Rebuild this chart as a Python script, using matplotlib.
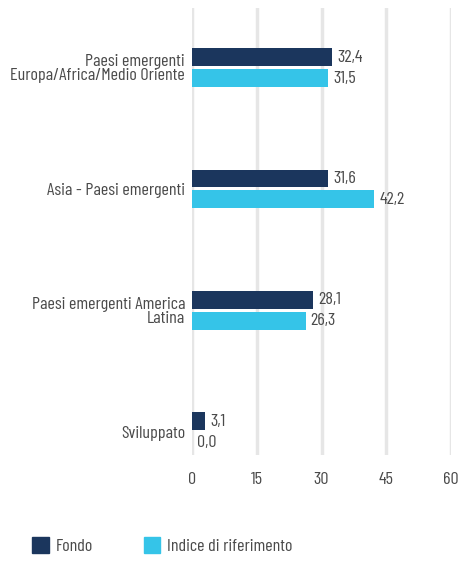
import numpy as np
import matplotlib.pyplot as plt
from matplotlib.patches import Patch

categories = ["Paesi emergenti\nEuropa/Africa/Medio Oriente",
              "Asia - Paesi emergenti",
              "Paesi emergenti America\nLatina",
              "Sviluppato"]
fondo = [32.4, 31.6, 28.1, 3.1]
indice = [31.5, 42.2, 26.3, 0.0]
series_names = ["Fondo", "Indice di riferimento"]
xticks = [0, 15, 30, 45, 60]

dark = "#1b365d"
light = "#35c4e8"
txt = "#4a4a4a"
fs = 13

plt.rcParams['font.family'] = ['Barlow Condensed', 'DejaVu Sans']
plt.rcParams['font.weight'] = 'normal'

fig = plt.figure(figsize=(4.62, 5.65), dpi=100)
ax = fig.add_axes([192 / 462, 1 - 455 / 565, (451 - 192) / 462, (455 - 8) / 565])

y = np.arange(len(categories))
h = 0.148
off = 0.0864
ax.barh(y - off, fondo, height=h, color=dark, zorder=3)
ax.barh(y + off, indice, height=h, color=light, zorder=3)

for yi, v in zip(y, fondo):
    ax.text(v + 1.2, yi - off, f"{v:.1f}".replace(".", ","), va="center", ha="left",
            fontsize=fs, color=txt)
for yi, v in zip(y, indice):
    ax.text(v + 1.2, yi + off, f"{v:.1f}".replace(".", ","), va="center", ha="left",
            fontsize=fs, color=txt)

ax.set_xlim(0, 60)
ax.set_ylim(3.19, -0.49)
ax.set_xticks(xticks)
ax.set_xticklabels([str(t) for t in xticks], fontsize=fs, color=txt)
ax.set_yticks(y)
ax.set_yticklabels(categories, fontsize=fs, color=txt, linespacing=0.9)
ax.tick_params(length=0, pad=5)
ax.tick_params(axis="x", pad=12)
for s in ax.spines.values():
    s.set_visible(False)
ax.xaxis.grid(True, color="#e6e6e6", linewidth=2.5, zorder=0)
ax.set_axisbelow(True)

handles = [Patch(color=dark), Patch(color=light)]
fig.legend(handles, series_names, loc="lower left", bbox_to_anchor=(0.035, -0.01), ncol=2,
           frameon=False, fontsize=fs, labelcolor=txt, handlelength=0.9, handleheight=0.95,
           handletextpad=0.4, columnspacing=2.8)

fig.savefig("out.png", dpi=100)
